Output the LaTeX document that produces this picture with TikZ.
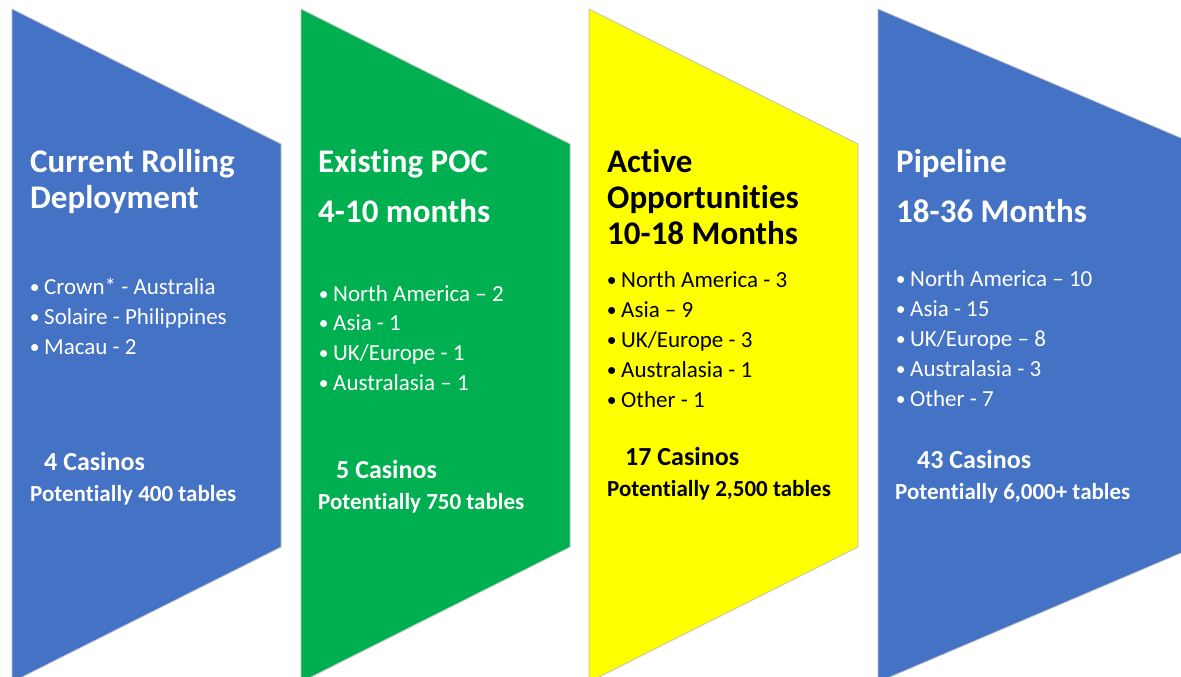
\documentclass[tikz,border=0pt]{standalone}
\usepackage{fontspec}
\setmainfont{Carlito}[Ligatures={NoCommon,NoRare,NoContextual}]
\definecolor{pblue}{HTML}{4472C4}
\definecolor{pgreen}{HTML}{00B050}
\definecolor{pyellow}{HTML}{FFFF00}
\definecolor{pedge}{HTML}{BFBFBF}
\newcommand{\bdot}{\llap{\raisebox{0.5pt}{\scalebox{0.85}{•}}\hspace{4.5pt}}}
\tikzset{
  panel/.style={draw=pedge, line width=0.8pt},
  ttl/.style={anchor=base west, inner sep=0pt, font=\fontsize{33}{33}\selectfont\bfseries},
  bul/.style={anchor=base west, inner sep=0pt, font=\fontsize{23}{23}\selectfont},
  sumtxt/.style={anchor=base west, inner sep=0pt, font=\fontsize{26}{26}\selectfont\bfseries},
  pottxt/.style={anchor=base west, inner sep=0pt, font=\fontsize{23}{23}\selectfont\bfseries},
}
\begin{document}
\begin{tikzpicture}[x=1pt,y=-1pt]
\useasboundingbox (0,0) rectangle (1181,677);
\begin{scope}
\clip (0,0) rectangle (1181,677);
\fill[white] (0,0) rectangle (1181,677);
\draw[panel, fill=pblue]   (12,9)  -- (281,144) -- (281,547) -- (12,682) -- cycle;
\draw[panel, fill=pgreen]  (301,9) -- (570,144) -- (570,547) -- (301,682) -- cycle;
\draw[panel, fill=pyellow] (589,9) -- (858,144) -- (858,547) -- (589,682) -- cycle;
\draw[panel, fill=pblue]   (878,9) -- (1195,144) -- (1195,547) -- (878,682) -- cycle;
\end{scope}

% Panel 1
\begin{scope}[text=white]
\node[ttl] (t1a) at (30,172) {Current Rolling};
\node[ttl] (t1b) at (30,208) {Deployment};
\node[bul] (b1a) at (44,294) {\bdot Crown* - Australia};
\node[bul] (b1b) at (44,324) {\bdot Solaire - Philippines};
\node[bul] (b1c) at (44,354) {\bdot Macau - 2};
\node[sumtxt] (s1) at (44,470) {4 Casinos};
\node[pottxt] (p1) at (30,501) {Potentially 400 tables};
\end{scope}

% Panel 2
\begin{scope}[text=white]
\node[ttl] (t2a) at (318,172) {Existing POC};
\node[ttl] (t2b) at (318,222) {4-10 months};
\node[bul] (b2a) at (333,301) {\bdot North America – 2};
\node[bul] (b2b) at (333,330) {\bdot Asia - 1};
\node[bul] (b2c) at (333,360) {\bdot UK/Europe - 1};
\node[bul] (b2d) at (333,390) {\bdot Australasia – 1};
\node[sumtxt] (s2) at (336,478) {5 Casinos};
\node[pottxt] (p2) at (318,509) {Potentially 750 tables};
\end{scope}

% Panel 3
\begin{scope}[text=black]
\node[ttl] (t3a) at (607,172) {Active};
\node[ttl] (t3b) at (607,208) {Opportunities};
\node[ttl] (t3c) at (607,244) {10-18 Months};
\node[bul] (b3a) at (621,287) {\bdot North America - 3};
\node[bul] (b3b) at (621,317) {\bdot Asia – 9};
\node[bul] (b3c) at (621,347) {\bdot UK/Europe - 3};
\node[bul] (b3d) at (621,377) {\bdot Australasia - 1};
\node[bul] (b3e) at (621,407) {\bdot Other - 1};
\node[sumtxt] (s3) at (625,465) {17 Casinos};
\node[pottxt] (p3) at (607,496) {Potentially 2,500 tables};
\end{scope}

% Panel 4
\begin{scope}[text=white]
\node[ttl] (t4a) at (896,172) {Pipeline};
\node[ttl] (t4b) at (896,222) {18-36 Months};
\node[bul] (b4a) at (910,286) {\bdot North America – 10};
\node[bul] (b4b) at (910,316) {\bdot Asia - 15};
\node[bul] (b4c) at (910,346) {\bdot UK/Europe – 8};
\node[bul] (b4d) at (910,376) {\bdot Australasia - 3};
\node[bul] (b4e) at (910,406) {\bdot Other - 7};
\node[sumtxt] (s4) at (917,468) {43 Casinos};
\node[pottxt] (p4) at (895,499) {Potentially 6,000+ tables};
\end{scope}
\end{tikzpicture}
\end{document}
